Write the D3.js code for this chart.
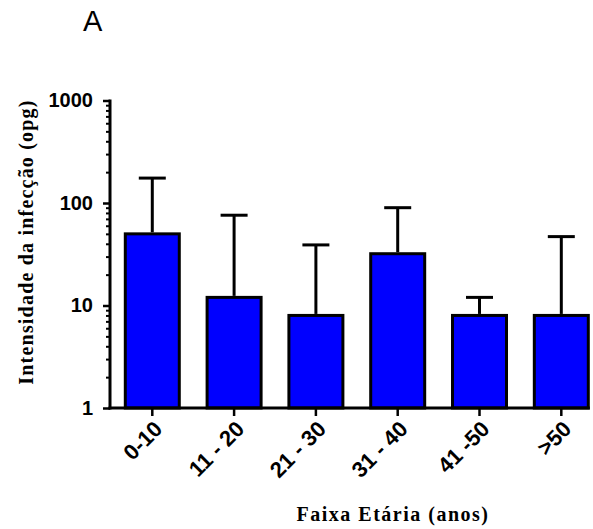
<!DOCTYPE html>
<html>
<head>
<meta charset="utf-8">
<script src="https://cdn.jsdelivr.net/npm/d3@7"></script>
<style>
  html, body { margin: 0; padding: 0; background: #fff; }
  svg { display: block; }
</style>
</head>
<body>
<svg id="chart" width="593" height="529"></svg>
<script>
// Age groups and parasite load (eggs per gram), geometric means with upper error limits
const categories = ["0-10", "11 - 20", "21 - 30", "31 - 40", "41 -50", ">50"];
const means = [50, 12, 8, 32, 8, 8];
const upperLimits = [175, 76, 39, 90, 12, 47];
const majorTicks = [1, 10, 100, 1000];
const panelLabel = "A";
const yTitle = "Intensidade da infecção (opg)";
const xTitle = "Faixa Etária (anos)";

const svg = d3.select("#chart");
const sans = "'Liberation Sans', Arial, sans-serif";
const serif = "'Liberation Serif', 'Times New Roman', serif";

const x = d3.scaleBand()
  .domain(categories)
  .range([110, 603.6])
  .paddingInner(0.34)
  .paddingOuter(0.187);

const y = d3.scaleLog()
  .domain([1, 1000])
  .range([408, 100.5]);

// minor ticks 2..9 in every decade
const minorTicks = [];
for (let d = 1; d < 1000; d *= 10) {
  for (let k = 2; k <= 9; k++) minorTicks.push(d * k);
}

// panel letter
svg.append("text")
  .attr("x", 83).attr("y", 31)
  .attr("font-family", sans).attr("font-size", 29)
  .attr("fill", "#000")
  .text(panelLabel);

// bars
const barStroke = 3;
svg.append("g").selectAll("rect")
  .data(categories)
  .join("rect")
  .attr("x", d => x(d))
  .attr("width", x.bandwidth())
  .attr("y", (d, i) => y(means[i]))
  .attr("height", (d, i) => y(1) - y(means[i]))
  .attr("fill", "#0000ff")
  .attr("stroke", "#000")
  .attr("stroke-width", barStroke);

// upper error bars
const capHalf = 13.5;
const err = svg.append("g").attr("stroke", "#000").attr("stroke-width", 3);
categories.forEach((c, i) => {
  const cx = x(c) + x.bandwidth() / 2;
  err.append("line")
    .attr("x1", cx).attr("x2", cx)
    .attr("y1", y(means[i]) - barStroke / 2)
    .attr("y2", y(upperLimits[i]));
  err.append("line")
    .attr("x1", cx - capHalf).attr("x2", cx + capHalf)
    .attr("y1", y(upperLimits[i])).attr("y2", y(upperLimits[i]));
});

// y axis: minor ticks
const yMinor = svg.append("g")
  .attr("transform", "translate(110,0)")
  .call(d3.axisLeft(y).tickValues(minorTicks).tickSize(4).tickFormat(""));
yMinor.select(".domain").remove();
yMinor.selectAll(".tick line").attr("stroke", "#000").attr("stroke-width", 2);

// y axis: major ticks with labels
const yMajor = svg.append("g")
  .attr("transform", "translate(110,0)")
  .call(d3.axisLeft(y).tickValues(majorTicks).tickSize(7).tickPadding(10)
    .tickFormat(d3.format("d")));
yMajor.select(".domain").remove();
yMajor.selectAll(".tick line").attr("stroke", "#000").attr("stroke-width", 2.5);
yMajor.selectAll(".tick text")
  .attr("font-family", sans).attr("font-weight", "bold")
  .attr("font-size", 20).attr("fill", "#000");

svg.append("line")
  .attr("x1", 110).attr("x2", 110)
  .attr("y1", y(1000) - 1).attr("y2", y(1) + 1.5)
  .attr("stroke", "#000").attr("stroke-width", 3);

// x axis
const lastCat = categories[categories.length - 1];
const xEnd = x(lastCat) + x.bandwidth() + barStroke / 2;
const xAxis = svg.append("g")
  .attr("transform", `translate(0,${y(1)})`)
  .call(d3.axisBottom(x).tickSize(8).tickFormat(""));
xAxis.select(".domain").remove();
xAxis.selectAll(".tick line").attr("stroke", "#000").attr("stroke-width", 2.5);

svg.append("line")
  .attr("x1", 108.5).attr("x2", xEnd)
  .attr("y1", y(1)).attr("y2", y(1))
  .attr("stroke", "#000").attr("stroke-width", 3);

svg.append("g").selectAll("text")
  .data(categories)
  .join("text")
  .attr("transform", d => `translate(${x(d) + x.bandwidth() / 2 + 6},${y(1) + 17}) rotate(-45)`)
  .attr("text-anchor", "end")
  .attr("dy", "0.35em")
  .attr("font-family", sans).attr("font-weight", "bold")
  .attr("font-size", 22).attr("fill", "#000")
  .text(d => d);

// axis titles
svg.append("text")
  .attr("transform", "translate(33,242) rotate(-90)")
  .attr("text-anchor", "middle")
  .attr("font-family", serif).attr("font-weight", "bold")
  .attr("font-size", 20).attr("letter-spacing", 1.2)
  .attr("fill", "#000")
  .text(yTitle);

svg.append("text")
  .attr("x", 393).attr("y", 521)
  .attr("text-anchor", "middle")
  .attr("font-family", serif).attr("font-weight", "bold")
  .attr("font-size", 20).attr("letter-spacing", 1.5)
  .attr("fill", "#000")
  .text(xTitle);
</script>
</body>
</html>
